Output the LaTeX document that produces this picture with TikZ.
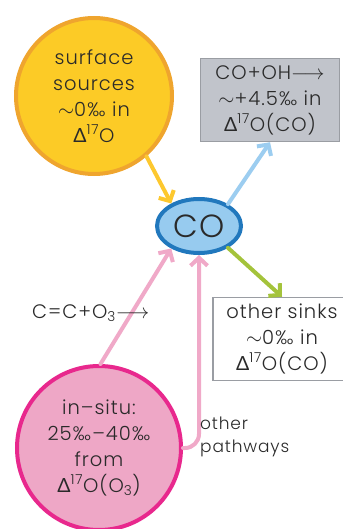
\documentclass[tikz,border=0pt]{standalone}
\usepackage{fontspec}
\setmainfont{Poppins}[UprightFont={* Light}, LetterSpace=5]
\newfontfamily\gk{Lato}
\usetikzlibrary{arrows.meta,shapes.geometric}
\definecolor{yelF}{HTML}{FCCB26}
\definecolor{yelB}{HTML}{EFA52E}
\definecolor{yelA}{HTML}{FDC82F}
\definecolor{grayF}{HTML}{C1C4CB}
\definecolor{grayB}{HTML}{9A9DA3}
\definecolor{coF}{HTML}{97CBEF}
\definecolor{coB}{HTML}{2178BD}
\definecolor{blueA}{HTML}{9CCDF0}
\definecolor{greenA}{HTML}{A4C33B}
\definecolor{pinkF}{HTML}{EEA7C6}
\definecolor{pinkB}{HTML}{E8288D}
\definecolor{pinkA}{HTML}{F0A9C8}
\definecolor{txt}{HTML}{2A2A2A}
\newcommand{\dlt}{{\gk Δ}}
\newcommand{\tld}{$\sim$}
\tikzset{
  maintext/.style={text=txt, align=center, font=\fontsize{19.5}{26}\selectfont},
  flow/.style={line width=4pt, line cap=round, -{Straight Barb[length=8pt,width=17pt]}},
  boxnode/.style={rectangle, draw=grayB, line width=1.5pt, inner sep=0pt},
}
\begin{document}
\begin{tikzpicture}[x=1pt,y=-1pt]
\useasboundingbox (0,0) rectangle (342,529);
% nodes
\node[circle, draw=yelB, fill=yelF, line width=4pt, minimum size=156pt, inner sep=0pt, maintext] (src) at (94,96)
  {surface\\sources\\\tld0‰ in\\\dlt\textsuperscript{17}O};
\node[boxnode, fill=grayF, minimum width=139pt, minimum height=83pt, maintext] (oh) at (270,100)
  {CO+OH$\longrightarrow$\\\tld+4.5‰ in\\\dlt\textsuperscript{17}O(CO)};
\node[ellipse, draw=coB, fill=coF, line width=4pt, minimum width=84pt, minimum height=54pt, inner sep=0pt,
  text=txt, font=\fontsize{32}{36}\selectfont] (co) at (199,226) {CO};
\node[boxnode, fill=white, minimum width=138pt, minimum height=83pt, maintext] (sinks) at (282,339)
  {other sinks\\\tld0‰ in\\\dlt\textsuperscript{17}O(CO)};
\node[circle, draw=pinkB, fill=pinkF, line width=4pt, minimum size=164pt, inner sep=0pt, maintext] (insitu) at (99,448)
  {in--situ:\\25‰--40‰\\from\\\dlt\textsuperscript{17}O(O\textsubscript{3})};
% connectors
\draw[flow, yelA] (src.311) -- (co.141);
\draw[flow, blueA] (co.37) -- (oh.south);
\draw[flow, greenA] (co.-37) -- (sinks.north);
\draw[flow, pinkA] (insitu.89) -- (co.219);
\draw[flow, pinkA, rounded corners=14pt] (insitu.east) -| (co.south);
% labels
\node[anchor=base west, inner sep=0pt, text=txt, font=\fontsize{19.5}{26}\selectfont] (cc) at (32,318)
  {C=C+O\textsubscript{3}$\longrightarrow$};
\node[anchor=north west, inner sep=0pt, text=txt, align=left, font=\fontsize{17}{23}\selectfont] (other) at (200,417)
  {other\\pathways};
\end{tikzpicture}
\end{document}
